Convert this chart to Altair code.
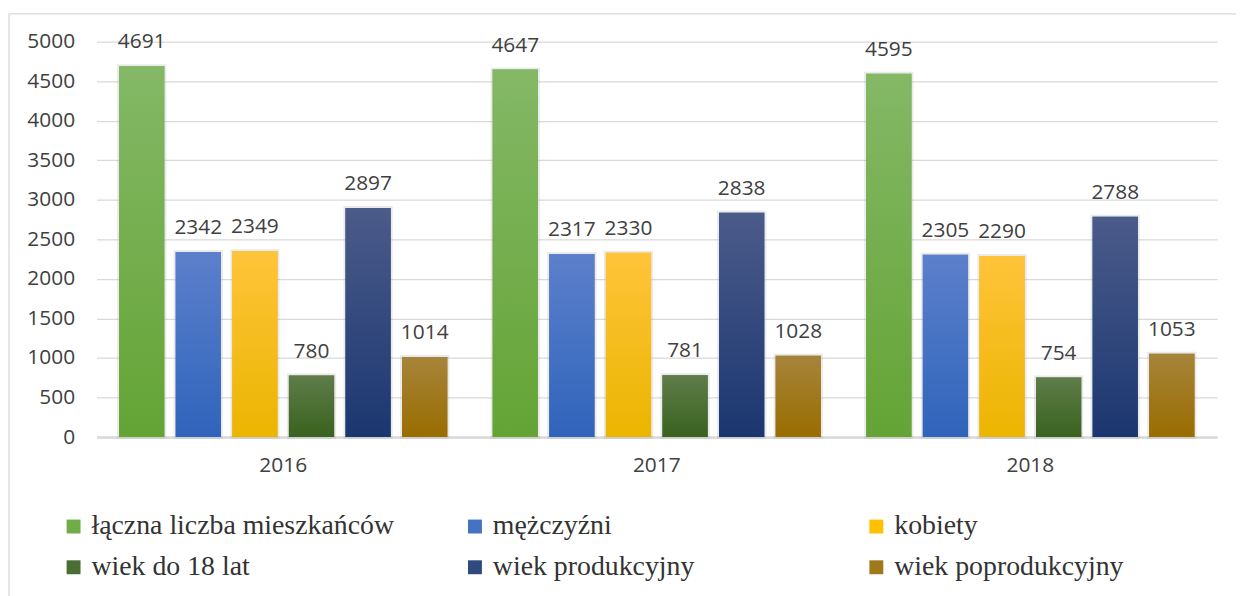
import altair as alt
import pandas as pd

years = ["2016", "2017", "2018"]
series = [
    "łączna liczba mieszkańców",
    "mężczyźni",
    "kobiety",
    "wiek do 18 lat",
    "wiek produkcyjny",
    "wiek poprodukcyjny",
]
laczna = [4691, 4647, 4595]
mezczyzni = [2342, 2317, 2305]
kobiety = [2349, 2330, 2290]
do18 = [780, 781, 754]
produkcyjny = [2897, 2838, 2788]
poprodukcyjny = [1014, 1028, 1053]

values_by_series = [laczna, mezczyzni, kobiety, do18, produkcyjny, poprodukcyjny]
top_colors = ["#84B866", "#5C80CB", "#FFC43A", "#5E7D4A", "#4B5B8A", "#A6843A"]
bottom_colors = ["#64A435", "#2F64BB", "#EBB500", "#3A621F", "#1B3770", "#9A6D00"]
mid_colors = ["#70AD47", "#4472C4", "#FFC000", "#4B6E35", "#2E4A7E", "#A07A1A"]

rows = []
for s, vals in zip(series, values_by_series):
    for y, v in zip(years, vals):
        rows.append({"rok": y, "seria": s, "wartosc": v})
df = pd.DataFrame(rows)

x_enc = alt.X("rok:N", sort=years, title=None,
              scale=alt.Scale(paddingInner=0, paddingOuter=0),
              axis=alt.Axis(labelAngle=0, labelFont="Open Sans", labelFontSize=21,
                            labelColor="#404040", labelPadding=18, ticks=False,
                            domain=True, domainColor="#d9d9d9", domainWidth=2.5,
                            grid=False))
xo_enc = alt.XOffset("seria:N", sort=series,
                     scale=alt.Scale(domain=series, paddingInner=0.2, paddingOuter=0.4))
y_enc = alt.Y("wartosc:Q", title=None,
              scale=alt.Scale(domain=[0, 5000], nice=False),
              axis=alt.Axis(values=list(range(0, 5001, 500)), format="d",
                            labelFont="Open Sans",
                            labelFontSize=21, labelColor="#404040", labelPadding=22,
                            ticks=False, domain=False, grid=True, gridColor="#d9d9d9",
                            gridWidth=1.3))

base = alt.Chart(df)

frame = alt.Chart(alt.Data(values=[{"a": 1}])).mark_rect(
    fill="white", fillOpacity=0, stroke="#d9d9d9", strokeWidth=1.3
).encode(x=alt.value(-88), x2=alt.value(1300), y=alt.value(-28), y2=alt.value(700))

solid = base.mark_bar(stroke="#a0a0a0", strokeWidth=4, strokeOpacity=0.22).encode(
    x=x_enc, xOffset=xo_enc, y=y_enc,
    color=alt.Color("seria:N", sort=series,
                    scale=alt.Scale(domain=series, range=mid_colors),
                    legend=alt.Legend(title=None, orient="none", legendX=-37, legendY=474,
                                      direction="horizontal",
                                      columns=3, gridAlign="all", columnPadding=67,
                                      rowPadding=13, symbolType="square", symbolSize=196,
                                      symbolStrokeWidth=0, labelFont="Liberation Serif",
                                      labelFontSize=28, labelColor="#333333",
                                      labelLimit=600, labelOffset=4)),
)

layers = [frame, solid]
for s, tc, bc in zip(series, top_colors, bottom_colors):
    grad = alt.Gradient(
        gradient="linear",
        stops=[alt.GradientStop(color=tc, offset=0), alt.GradientStop(color=bc, offset=1)],
        x1=0, x2=0, y1=0, y2=1,
    )
    layers.append(
        base.transform_filter(alt.datum.seria == s)
        .mark_bar(color=grad)
        .encode(x=x_enc, xOffset=xo_enc, y=y_enc)
    )

labels = base.mark_text(
    font="Open Sans", fontSize=21, color="#404040", baseline="alphabetic", dy=-18
).encode(x=x_enc, xOffset=xo_enc, y=y_enc, text=alt.Text("wartosc:Q", format="d"))
layers.append(labels)

chart = alt.layer(*layers).properties(
    width=1128, height=398,
    autosize=alt.AutoSizeParams(type="none"),
    padding={"left": 89, "top": 32, "right": 19, "bottom": 158},
).configure_view(stroke=None)

chart.save("out.html", embed_options={"renderer": "svg", "actions": False})
